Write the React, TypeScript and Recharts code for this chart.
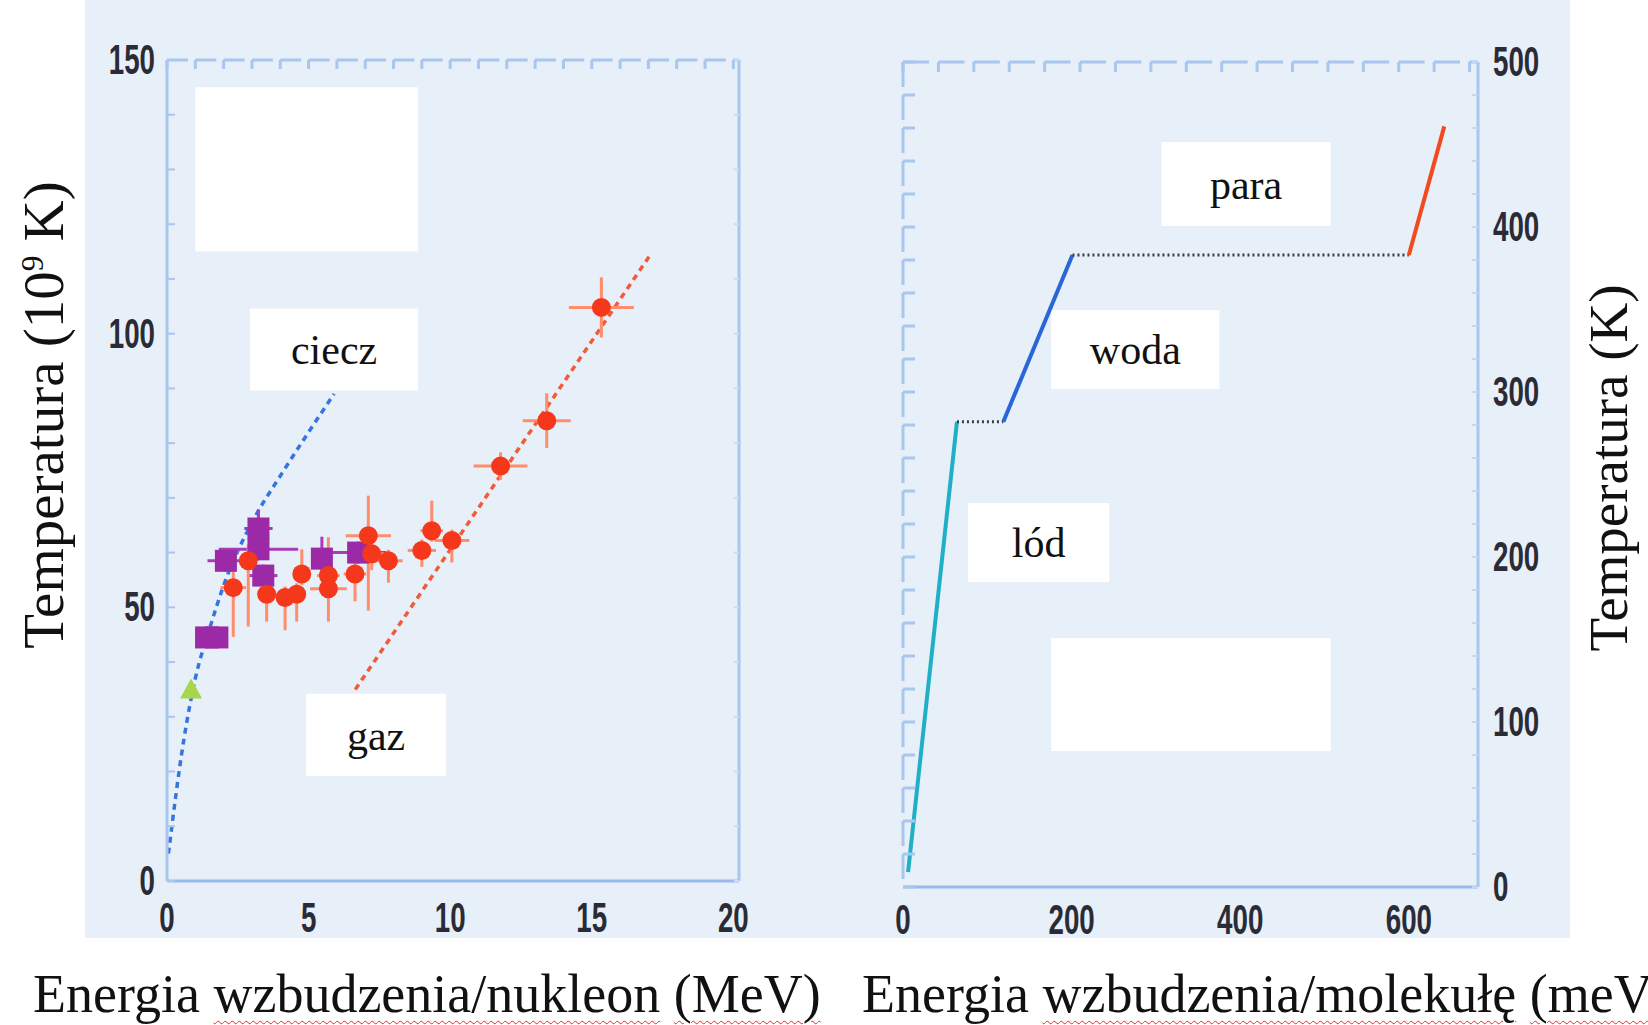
import React from "react";
import {
  ComposedChart,
  Line,
  Scatter,
  XAxis,
  YAxis,
  ErrorBar,
  ReferenceArea,
  ReferenceLine,
  Label,
} from "recharts";

// ---- lewy panel: materia jądrowa ----
const nucXTicks = [0, 5, 10, 15, 20];
const nucYTicks = [0, 50, 100, 150];

// pomiary (czerwone kółka)
const redE = [2.34, 2.87, 3.52, 4.17, 4.58, 4.76, 5.7, 5.7, 6.64, 7.11, 7.23, 7.82, 9.0, 9.35, 10.06, 11.78, 13.41, 15.34];
const redT = [53.6, 58.5, 52.4, 51.8, 52.4, 56.1, 55.8, 53.4, 56.1, 63.1, 59.8, 58.5, 60.4, 64.0, 62.2, 75.8, 84.1, 104.8];
const redErrE = [0.45, 0.3, 0.3, 0.3, 0.3, 0.3, 0.4, 0.65, 0.4, 0.8, 0.5, 0.5, 0.5, 0.4, 0.62, 0.95, 0.85, 1.15];
const redErrT = [[9, 3], [12, 3], [5, 2], [6, 2], [5, 2], [2, 4.5], [2, 7], [6, 2], [5, 3], [13.7, 7.3], [3, 3], [4, 2], [3, 2], [2, 5.5], [4, 2], [2.5, 2.5], [5, 5], [5.5, 5.5]];

// pomiary (fioletowe kwadraty)
const purpleE = [1.38, 1.78, 2.08, 3.23, 3.23, 3.4, 5.47, 6.75];
const purpleT = [44.5, 44.5, 58.5, 64.4, 60.6, 55.8, 58.9, 60.0];
const purpleErrE = [0.3, 0.3, 0.65, 0.5, 1.4, 0.5, 0.3, 1.0];
const purpleErrT = [2, 2, 2, 3.5, 2, 2, 4, 2];

// zielony trójkąt
const greenE = [0.85];
const greenT = [35];

// krzywa cieczy (niebieska przerywana)
const liquidE = [0.05, 0.6, 1.0, 1.5, 2.0, 3.0, 4.0, 5.0, 5.9];
const liquidT = [5, 26, 37, 46, 54, 65.5, 74, 82, 89];

// prosta gazu (czerwona przerywana)
const gasE = [6.65, 17.12];
const gasT = [35, 114.8];

// ---- prawy panel: woda ----
const waterXTicks = [0, 200, 400, 600];
const waterYTicks = [0, 100, 200, 300, 400, 500];

const iceE = [6, 64];
const iceT = [9, 282];
const meltE = [64, 119];
const meltT = [282, 282];
const liqE = [119, 201];
const liqT = [282, 383];
const boilE = [201, 600];
const boilT = [383, 383];
const steamE = [600, 642];
const steamT = [383, 461];

const range = (a: number, b: number, s: number) =>
  Array.from({ length: Math.floor((b - a) / s) + 1 }, (_, i) => a + i * s);

const pts = (xs: number[], ys: number[]) => xs.map((x, i) => ({ x, y: ys[i] }));

const frame = "#a8c6ee";
const serif = "'Liberation Serif', 'Times New Roman', serif";

const NumTick = ({ x, y, payload, anchor }: any) => (
  <text
    transform={`translate(${x},${y}) scale(0.66,1)`}
    textAnchor={anchor}
    dominantBaseline="central"
    fontFamily="'Liberation Sans', Arial, sans-serif"
    fontWeight={700}
    fontSize={42}
    fill="#2b2b35"
  >
    {payload.value}
  </text>
);

// krótka kreska podziałki skierowana do wnętrza ramki
const comb = (dx: number, dy: number, color: string, w: number) => (p: any) =>
  <line x1={p.x} y1={p.y} x2={p.x + dx} y2={p.y + dy} stroke={color} strokeWidth={w} />;

// górna „grzebieniowa” ramka – kreski w dół od górnej krawędzi
const topCombLines = (xs: number[], top: number, len: number) =>
  xs.map((v) => (
    <ReferenceLine
      key={`tc${v}`}
      segment={[{ x: v, y: top }, { x: v, y: top - len }]}
      stroke={frame}
      strokeWidth={3}
    />
  ));

const RedDot = (p: any) => <circle cx={p.cx} cy={p.cy} r={9.5} fill="#f5381b" />;
const PurpleSq = (p: any) => (
  <rect x={p.cx - 11} y={p.cy - 11} width={22} height={22} fill="#9c2aa6" />
);
const GreenTri = (p: any) => (
  <polygon
    points={`${p.cx - 11},${p.cy + 9} ${p.cx + 11},${p.cy + 9} ${p.cx},${p.cy - 11}`}
    fill="#a6d64a"
  />
);

const boxLabel = (text: string) => (
  <Label value={text} position="center" fontSize={42} fontFamily={serif} fill="#111" />
);

const wavy: React.CSSProperties = {
  textDecorationLine: "underline",
  textDecorationStyle: "wavy",
  textDecorationColor: "#e0302a",
  textDecorationThickness: "1px",
  textUnderlineOffset: "8px",
};

function NuclearChart() {
  const red = redE.map((x, i) => ({ x, y: redT[i], ex: redErrE[i], ey: redErrT[i] }));
  const purple = purpleE.map((x, i) => ({ x, y: purpleT[i], ex: purpleErrE[i], ey: purpleErrT[i] }));
  return (
    <ComposedChart width={800} height={960} margin={{ top: 60, left: 166, right: 61, bottom: 78 }}>
      <XAxis
        dataKey="x"
        type="number"
        domain={[0, 20.2]}
        ticks={nucXTicks}
        interval={0}
        height={1}
        tickSize={0}
        tickMargin={37}
        tickLine={false}
        axisLine={{ stroke: "#98bbe9", strokeWidth: 3 }}
        tick={(p: any) => <NumTick {...p} anchor="middle" />}
      />
      <XAxis
        xAxisId="top"
        orientation="top"
        type="number"
        domain={[0, 20.2]}
        height={1}
        mirror
        tick={false}
        tickLine={false}
        allowDataOverflow
        axisLine={{ stroke: frame, strokeWidth: 3, strokeDasharray: "21 7.3" }}
      />
      <YAxis
        dataKey="y"
        type="number"
        domain={[0, 150]}
        ticks={nucYTicks}
        interval={0}
        width={1}
        tickSize={0}
        tickMargin={12}
        tickLine={false}
        axisLine={{ stroke: frame, strokeWidth: 3 }}
        tick={(p: any) => <NumTick {...p} anchor="end" />}
      />
      <YAxis
        yAxisId="leftTicks"
        type="number"
        domain={[0, 150]}
        ticks={range(0, 150, 10)}
        interval={0}
        width={1}
        mirror
        tickSize={0}
        tickMargin={0}
        tickLine={false}
        allowDataOverflow
        axisLine={false}
        tick={comb(8, 0, frame, 2)}
      />
      <YAxis
        yAxisId="right"
        orientation="right"
        type="number"
        domain={[0, 150]}
        ticks={range(0, 150, 10)}
        interval={0}
        width={1}
        mirror
        tickSize={0}
        tickMargin={0}
        tickLine={false}
        allowDataOverflow
        axisLine={{ stroke: frame, strokeWidth: 3 }}
        tick={comb(-5, 0, "#cadcf3", 2)}
      />

      {topCombLines(range(0, 20, 1), 150, 1.65)}

      <Line
        data={pts(liquidE, liquidT)}
        dataKey="y"
        type="monotone"
        stroke="#3674e0"
        strokeWidth={3.5}
        strokeDasharray="6 5"
        dot={false}
        isAnimationActive={false}
      />
      <Line
        data={pts(gasE, gasT)}
        dataKey="y"
        type="linear"
        stroke="#f25a3a"
        strokeWidth={3.5}
        strokeDasharray="6 5"
        dot={false}
        isAnimationActive={false}
      />

      <ReferenceArea x1={1.0} x2={8.87} y1={115} y2={145} fill="#fff" fillOpacity={1} stroke="none" />
      <ReferenceArea x1={2.93} x2={8.87} y1={89.6} y2={104.6} fill="#fff" fillOpacity={1} stroke="none">
        {boxLabel("ciecz")}
      </ReferenceArea>
      <ReferenceArea x1={4.91} x2={9.86} y1={19.2} y2={34.2} fill="#fff" fillOpacity={1} stroke="none">
        {boxLabel("gaz")}
      </ReferenceArea>

      <Scatter data={pts(greenE, greenT)} shape={GreenTri} isAnimationActive={false} />
      <Scatter data={purple} shape={PurpleSq} isAnimationActive={false}>
        <ErrorBar dataKey="ex" direction="x" width={0} stroke="#a83cb6" strokeWidth={3} />
        <ErrorBar dataKey="ey" direction="y" width={0} stroke="#a83cb6" strokeWidth={3} />
      </Scatter>
      <Scatter data={red} shape={RedDot} isAnimationActive={false}>
        <ErrorBar dataKey="ex" direction="x" width={0} stroke="#ff8d6c" strokeWidth={3} />
        <ErrorBar dataKey="ey" direction="y" width={0} stroke="#ff8d6c" strokeWidth={3} />
      </Scatter>
    </ComposedChart>
  );
}

function WaterChart() {
  return (
    <ComposedChart width={760} height={960} margin={{ top: 62, left: 83, right: 101, bottom: 72 }}>
      <XAxis
        dataKey="x"
        type="number"
        domain={[0, 682]}
        ticks={waterXTicks}
        interval={0}
        height={1}
        tickSize={0}
        tickMargin={33}
        tickLine={false}
        axisLine={{ stroke: "#98bbe9", strokeWidth: 3 }}
        tick={(p: any) => <NumTick {...p} anchor="middle" />}
      />
      <XAxis
        xAxisId="top"
        orientation="top"
        type="number"
        domain={[0, 682]}
        height={1}
        mirror
        tick={false}
        tickLine={false}
        allowDataOverflow
        axisLine={{ stroke: frame, strokeWidth: 3, strokeDasharray: "26 9.4" }}
      />
      <YAxis
        dataKey="y"
        orientation="right"
        type="number"
        domain={[0, 500]}
        ticks={waterYTicks}
        interval={0}
        width={1}
        tickSize={0}
        tickMargin={15}
        tickLine={false}
        axisLine={{ stroke: frame, strokeWidth: 3 }}
        tick={(p: any) => <NumTick {...p} anchor="start" />}
      />
      <YAxis
        yAxisId="rightTicks"
        orientation="right"
        type="number"
        domain={[0, 500]}
        ticks={range(0, 500, 20)}
        interval={0}
        width={1}
        mirror
        tickSize={0}
        tickMargin={0}
        tickLine={false}
        allowDataOverflow
        axisLine={false}
        tick={comb(-6, 0, "#c3d7f2", 2)}
      />
      <YAxis
        yAxisId="left"
        type="number"
        domain={[0, 500]}
        ticks={range(0, 500, 20)}
        interval={0}
        width={1}
        mirror
        tickSize={0}
        tickMargin={0}
        tickLine={false}
        allowDataOverflow
        axisLine={{ stroke: frame, strokeWidth: 3, strokeDasharray: "25 8" }}
        tick={comb(12, 0, frame, 3)}
      />

      {topCombLines(range(0, 682, 42), 500, 6)}

      <ReferenceArea x1={306.5} x2={507.3} y1={400.6} y2={451.5} fill="#fff" fillOpacity={1} stroke="none">
        {boxLabel("para")}
      </ReferenceArea>
      <ReferenceArea x1={175.8} x2={375.4} y1={301.8} y2={349.7} fill="#fff" fillOpacity={1} stroke="none">
        {boxLabel("woda")}
      </ReferenceArea>
      <ReferenceArea x1={77.2} x2={244.7} y1={184.8} y2={232.7} fill="#fff" fillOpacity={1} stroke="none">
        {boxLabel("lód")}
      </ReferenceArea>
      <ReferenceArea x1={175.8} x2={507.3} y1={82.4} y2={150.9} fill="#fff" fillOpacity={1} stroke="none" />

      <Line data={pts(iceE, iceT)} dataKey="y" type="linear" stroke="#1fb0c6" strokeWidth={4} dot={false} isAnimationActive={false} />
      <Line data={pts(meltE, meltT)} dataKey="y" type="linear" stroke="#3a3f4a" strokeWidth={3} strokeDasharray="2 3" dot={false} isAnimationActive={false} />
      <Line data={pts(liqE, liqT)} dataKey="y" type="linear" stroke="#2b66d6" strokeWidth={4} dot={false} isAnimationActive={false} />
      <Line data={pts(boilE, boilT)} dataKey="y" type="linear" stroke="#3a3f4a" strokeWidth={3} strokeDasharray="2 3" dot={false} isAnimationActive={false} />
      <Line data={pts(steamE, steamT)} dataKey="y" type="linear" stroke="#f04a1e" strokeWidth={4} dot={false} isAnimationActive={false} />
    </ComposedChart>
  );
}

export default function App() {
  return (
    <div
      style={{
        position: "absolute",
        left: 0,
        top: 0,
        width: 1648,
        height: 1025,
        overflow: "hidden",
        background: "#fff",
      }}
    >
      <div
        style={{
          position: "absolute",
          left: 85,
          top: 0,
          width: 1485,
          height: 938,
          background: "#e7eff9",
        }}
      />
      <div style={{ position: "absolute", left: 0, top: 0 }}>
        <NuclearChart />
      </div>
      <div style={{ position: "absolute", left: 820, top: 0 }}>
        <WaterChart />
      </div>

      <div
        style={{
          position: "absolute",
          left: 43,
          top: 415,
          transform: "translate(-50%, -50%) rotate(-90deg)",
          whiteSpace: "nowrap",
          fontFamily: serif,
          fontSize: 57,
          lineHeight: 1,
          color: "#111",
        }}
      >
        Temperatura (10<sup style={{ fontSize: "0.55em" }}>9</sup> K)
      </div>
      <div
        style={{
          position: "absolute",
          left: 1608,
          top: 468,
          transform: "translate(-50%, -50%) rotate(-90deg)",
          whiteSpace: "nowrap",
          fontFamily: serif,
          fontSize: 55,
          lineHeight: 1,
          color: "#111",
        }}
      >
        Temperatura (K)
      </div>

      <div
        style={{
          position: "absolute",
          left: 33,
          top: 967,
          whiteSpace: "nowrap",
          fontFamily: serif,
          fontSize: 54,
          lineHeight: 1,
          color: "#111",
        }}
      >
        Energia <span style={wavy}>wzbudzenia/nukleon</span> <span style={wavy}>(MeV)</span>
      </div>
      <div
        style={{
          position: "absolute",
          left: 862,
          top: 967,
          whiteSpace: "nowrap",
          fontFamily: serif,
          fontSize: 54,
          lineHeight: 1,
          color: "#111",
        }}
      >
        Energia <span style={wavy}>wzbudzenia/molekułę</span> <span style={wavy}>(meV</span>
      </div>
    </div>
  );
}
